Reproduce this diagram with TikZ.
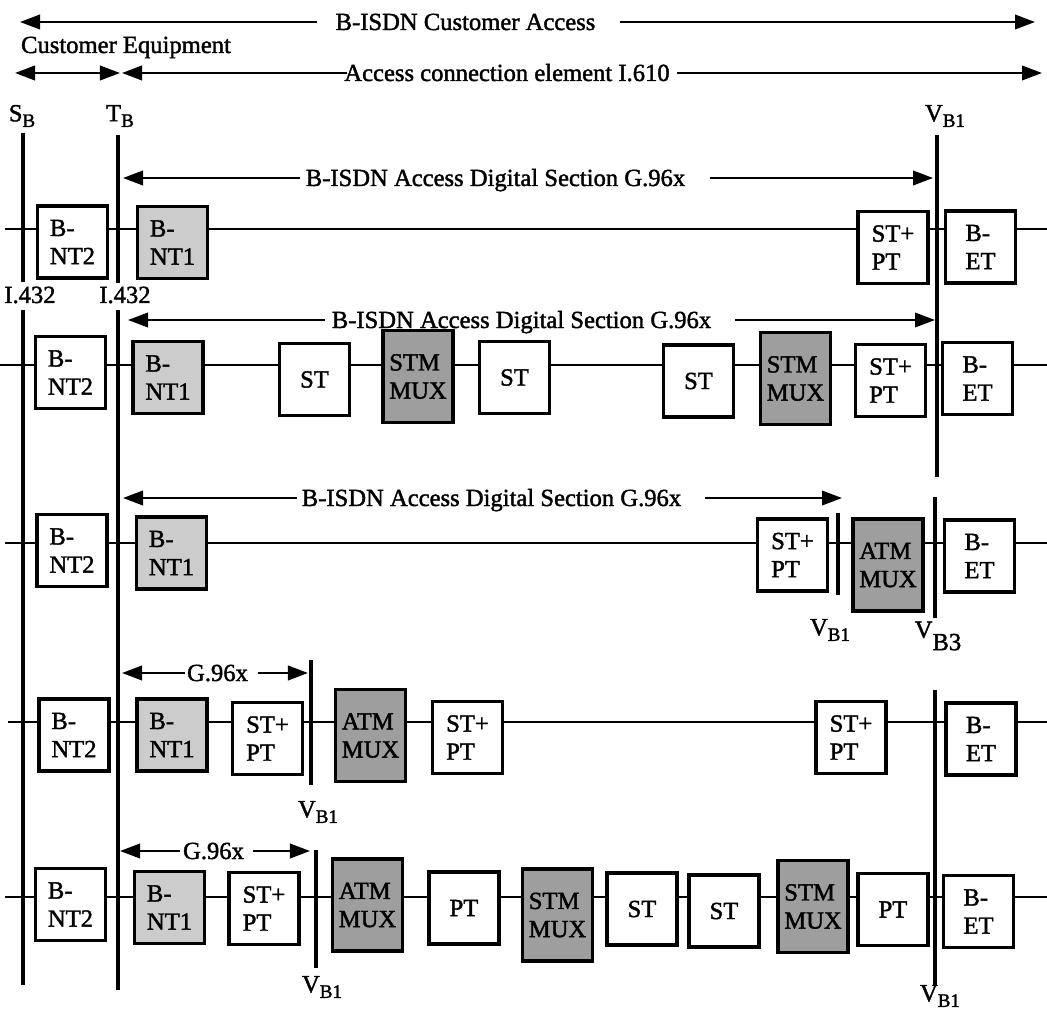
\documentclass[tikz,border=0pt]{standalone}
\usepackage{fontspec}
\setmainfont{Liberation Serif}[RawFeature={embolden=1.6}]
\usetikzlibrary{arrows.meta}

\begin{document}
\begin{tikzpicture}[x=0.025cm,y=-0.025cm,>={Triangle[length=5mm,width=3.6mm]},
    every node/.style={font=\fontsize{17.5}{20}\selectfont}]
  \useasboundingbox (0,0) rectangle (1047,1011);
  \tikzstyle{unit}=[draw,line width=2.2pt,fill=white,minimum width=1.75cm,minimum height=1.8cm,inner sep=0pt,align=left]
  \tikzstyle{nt1}=[unit,fill=black!20]
  \tikzstyle{mux}=[unit,fill=black!38,minimum height=2.3cm]
  \tikzstyle{ref}=[line width=3pt]
  \tikzstyle{bus}=[line width=2pt]
  \tikzstyle{dim}=[line width=1.8pt]
  \newcommand\eqp[5]{\node[#1] at (#2,#3) (#4) {#5};}
  \newcommand\refline[4]{\coordinate (#1t) at (#2,#3); \coordinate (#1b) at (#2,#4);%
    \draw[ref] (#1t) -- (#1b);}
  \newcommand\subl[2]{#1\raisebox{-.5ex}{\fontsize{13.5}{13.5}\selectfont #2}}
  \newcommand\dimrow[8]{\coordinate (#1a) at (#4,#2); \coordinate (#1b) at (#3,#2);%
    \coordinate (#1c) at (#6,#2); \coordinate (#1d) at (#7,#2);%
    \node[anchor=base] (#1) at (#5,#2+8) {#8};%
    \draw[dim,->] (#1a) -- (#1b); \draw[dim,->] (#1c) -- (#1d);}

  % bus lines
  \coordinate (w1) at (5,229);   \coordinate (e1) at (1047,229);
  \coordinate (w2) at (0,365);   \coordinate (e2) at (1047,365);
  \coordinate (w3) at (5,543);   \coordinate (e3) at (1047,543);
  \coordinate (w4) at (8,722);   \coordinate (e4) at (1047,722);
  \coordinate (w5) at (5,897);   \coordinate (e5) at (1047,897);
  \foreach \r in {1,...,5} \draw[bus] (w\r) -- (e\r);

  % row 1
  \eqp{unit}{72.5}{242}{r1nt2}{B-\\NT2}
  \eqp{nt1}{172.5}{242.5}{r1nt1}{B-\\NT1}
  \eqp{unit}{893}{247.5}{r1stpt}{ST+\\PT}
  \eqp{unit}{980.5}{247}{r1et}{B-\\ET}
  % row 2
  \eqp{unit}{70.5}{372.5}{r2nt2}{B-\\NT2}
  \eqp{nt1}{168}{377.5}{r2nt1}{B-\\NT1}
  \eqp{unit}{314.5}{379.5}{r2st1}{ST}
  \eqp{mux}{418}{376.5}{r2mux1}{STM\\MUX}
  \eqp{unit}{514.5}{377.5}{r2st2}{ST}
  \eqp{unit}{698.5}{381}{r2st3}{ST}
  \eqp{mux}{795.5}{378.5}{r2mux2}{STM\\MUX}
  \eqp{unit}{890.5}{380.5}{r2stpt}{ST+\\PT}
  \eqp{unit}{977.5}{378.5}{r2et}{B-\\ET}
  % row 3
  \eqp{unit}{72}{550.5}{r3nt2}{B-\\NT2}
  \eqp{nt1}{171.5}{553}{r3nt1}{B-\\NT1}
  \eqp{unit}{792.5}{555}{r3stpt}{ST+\\PT}
  \eqp{mux}{888}{565}{r3mux}{ATM\\MUX}
  \eqp{unit}{979.5}{556}{r3et}{B-\\ET}
  % row 4
  \eqp{unit}{74}{735}{r4nt2}{B-\\NT2}
  \eqp{nt1}{172}{735}{r4nt1}{B-\\NT1}
  \eqp{unit}{267.5}{738.5}{r4stpt1}{ST+\\PT}
  \eqp{mux}{370.5}{735.5}{r4mux}{ATM\\MUX}
  \eqp{unit}{467.5}{737.5}{r4stpt2}{ST+\\PT}
  \eqp{unit}{851}{737.5}{r4stpt3}{ST+\\PT}
  \eqp{unit}{981}{739}{r4et}{B-\\ET}
  % row 5
  \eqp{unit}{70.5}{904.5}{r5nt2}{B-\\NT2}
  \eqp{nt1}{169.5}{907.5}{r5nt1}{B-\\NT1}
  \eqp{unit}{264}{908.5}{r5stpt}{ST+\\PT}
  \eqp{mux}{367.5}{905}{r5mux1}{ATM\\MUX}
  \eqp{unit}{464}{908}{r5pt1}{PT}
  \eqp{mux}{557.5}{915}{r5mux2}{STM\\MUX}
  \eqp{unit}{642}{909}{r5st1}{ST}
  \eqp{unit}{724}{911}{r5st2}{ST}
  \eqp{mux}{813}{906.5}{r5mux3}{STM\\MUX}
  \eqp{unit}{893}{909.5}{r5pt2}{PT}
  \eqp{unit}{978.5}{911.5}{r5et}{B-\\ET}

  % reference points
  \refline{sbu}{23}{133}{282}
  \refline{sbl}{23}{310}{985}
  \refline{tbu}{118}{135}{283}
  \refline{tbl}{118}{310}{990}
  \refline{va}{937}{135}{477}
  \refline{vb}{935}{497}{618}
  \refline{vc}{838}{513}{595}
  \refline{vd}{311}{660}{785}
  \refline{ve}{935}{690}{985}
  \refline{vf}{316}{850}{968}

  \node (lsb) at (22,116) {\subl{S}{B}};
  \node (ltb) at (120,116) {\subl{T}{B}};
  \node (lva) at (945,116) {\subl{V}{B1}};
  \node (li1) at (30,295) {I.432};
  \node (li2) at (125,295) {I.432};
  \node (lvc) at (830,630) {\subl{V}{B1}};
  \node (lvb) at (938,636) {V\raisebox{-1.1ex}{B3}};
  \node (lvd) at (318,812) {\subl{V}{B1}};
  \node (lvf) at (322,987) {\subl{V}{B1}};
  \node (lve) at (940,996) {\subl{V}{B1}};

  % spans
  \dimrow{ca}{22}{20}{317}{465.5}{620}{1035}{B-ISDN Customer Access}
  \node[anchor=base] (ce) at (126,53) {Customer Equipment};
  \coordinate (cel) at (15,73); \coordinate (cer) at (120,73);
  \draw[dim,<->] (cel) -- (cer);
  \dimrow{ac}{73}{122}{347}{507}{677}{1042}{Access connection element I.610}
  \dimrow{ds1}{178}{123}{300}{495.5}{710}{933}{B-ISDN Access Digital Section G.96x}
  \dimrow{ds2}{320}{128}{325}{521.5}{735}{935}{B-ISDN Access Digital Section G.96x}
  \dimrow{ds3}{498}{123}{297}{491.5}{705}{842}{B-ISDN Access Digital Section G.96x}
  \dimrow{ga}{673}{122}{185}{217.5}{258}{308}{G.96x}
  \dimrow{gb}{851}{120}{180}{213.5}{253}{310}{G.96x}
\end{tikzpicture}
\end{document}
